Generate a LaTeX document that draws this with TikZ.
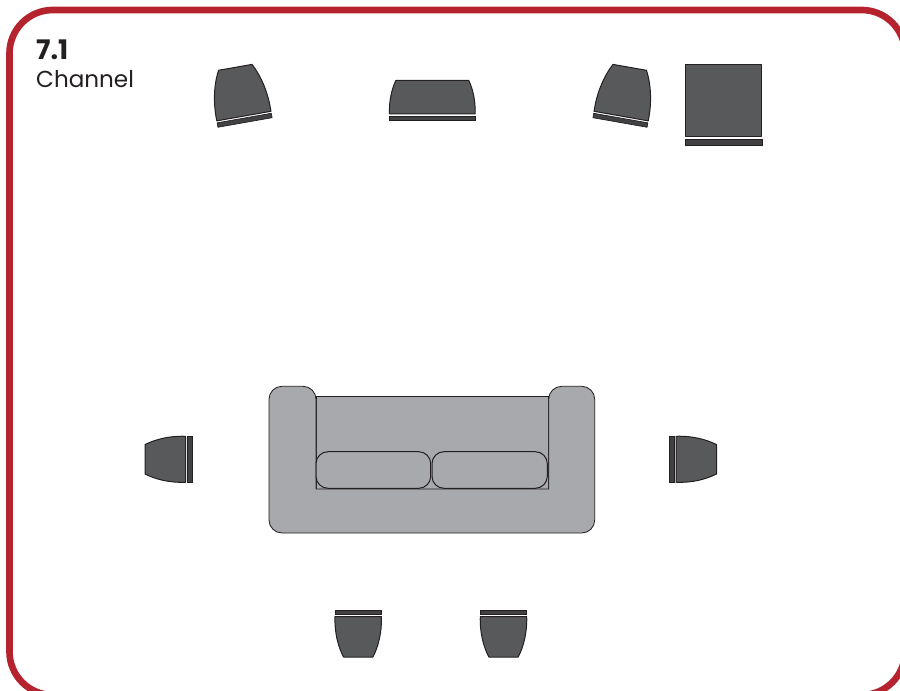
\documentclass[tikz,border=0pt]{standalone}
\usepackage{fontspec}
\setmainfont{Poppins}
\usepackage{tikz}
\definecolor{framered}{RGB}{181,36,46}
\definecolor{speakergray}{RGB}{88,89,91}
\definecolor{bargray}{RGB}{65,64,66}
\definecolor{sofagray}{RGB}{167,169,172}
\definecolor{inkdark}{RGB}{35,31,32}
\tikzset{
  frame/.style={draw=framered,line width=2mm},
  speakerbody/.style={draw=inkdark,fill=speakergray,line width=.3mm,line join=round},
  speakerbar/.style={draw=inkdark,fill=bargray,line width=.2mm},
  sofapart/.style={draw=inkdark,fill=sofagray,line width=.25mm},
  cushion/.style={draw=inkdark,fill=sofagray,line width=.3mm,rounded corners=3.6mm},
  title/.style={anchor=base west,inner sep=0pt,text=inkdark,font=\fontsize{19.7}{20}\selectfont}
}
\begin{document}
\begin{tikzpicture}[x=.3mm,y=.3mm]
    \useasboundingbox (0,0) rectangle (900,690);
    % outer frame
    \draw[frame,rounded corners=13mm] (9.5,-5) rectangle (905,680);
    \node[title,font=\fontsize{23}{23}\selectfont\bfseries] (channelnum) at (36,630) {7.1};
    \node[title] (channelname) at (36,602) {Channel};
    % speakers: x/y of the bar's outer edge, turn, half width, half tip, length
    \foreach \x/\y/\r/\w/\t/\l in {245/567.5/10/27.5/17/56, 432.3/569.5/0/42.8/36.5/40, 620/567.5/-10/27.5/17/56,
      192/230.7/90/23/14.7/47, 669.5/230.7/-90/23/14.7/47, 358.2/80/180/23.2/14.7/47, 503.5/80/180/23.2/14.7/47}{
      \begin{scope}[shift={(\x,\y)},rotate=\r]
        \draw[speakerbar] (-\w,0) rectangle (\w,4.5);
        \draw[speakerbody] (-\w,6.5) .. controls ({-\w-.6},{6.5+.4*(\l-6.5)}) and ({-\t-.62*(\w-\t)},{\l-.25*(\l-6.5)}) .. (-\t,\l)
          -- (\t,\l) .. controls ({\t+.62*(\w-\t)},{\l-.25*(\l-6.5)}) and ({\w+.6},{6.5+.4*(\l-6.5)}) .. (\w,6.5) -- cycle;
      \end{scope}
    }
    % subwoofer
    \draw[speakerbody] (685.5,553.3) rectangle (761,625.3);
    \draw[speakerbar] (685,544.8) rectangle (762,550.7);
    % sofa
    \draw[sofapart] (316,201) rectangle (548.7,293.7);
    \draw[sofapart,rounded corners=3.9mm] (316,201) -- (316,303.7) -- (269,303.7) -- (269,157) -- (594.7,157) -- (594.7,303.7) -- (548.7,303.7) [sharp corners] -- (548.7,201) -- cycle;
    \draw[cushion] (316,201.7) rectangle (430.7,238.3);
    \draw[cushion] (432,201.7) rectangle (547.3,238.3);
  \end{tikzpicture}
\end{document}
